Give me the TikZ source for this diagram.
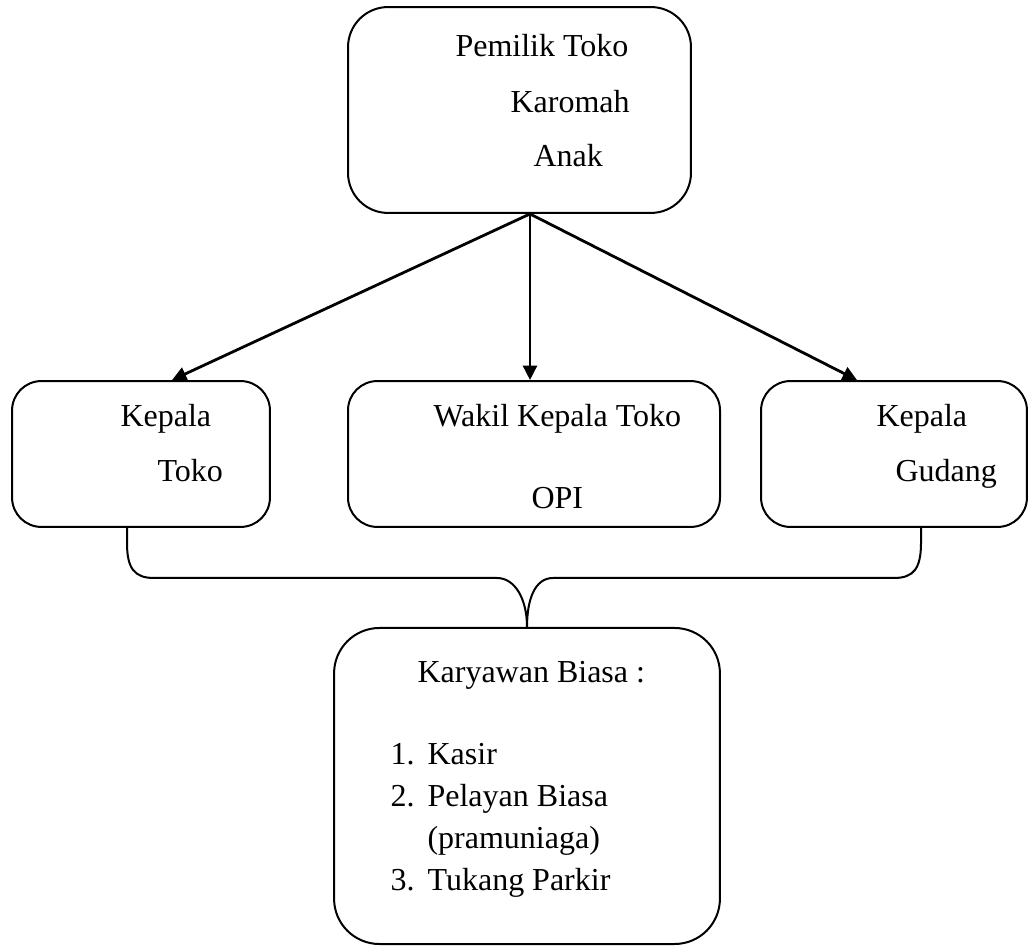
\documentclass[tikz,border=0pt]{standalone}
\usepackage{fontspec}
\setmainfont{Liberation Serif}
\usepackage{tikz}
\usetikzlibrary{arrows.meta,calc}

\begin{document}
\begin{tikzpicture}[x=0.375pt,y=-0.375pt,
        kotak/.style={draw,rounded corners=#1,line width=0.75pt,inner sep=0pt},
        kotak/.default=11pt,
        tulisan/.style={anchor=base west,inner sep=0pt,font=\fontsize{12}{14}\selectfont},
        panah/.style={-{Triangle[length=5.4pt,width=5.2pt]},line width=1.05pt}]
        \useasboundingbox (0,0) rectangle (1028,951);
        % kotak-kotak
        \node[kotak=15pt,minimum width=128.6pt,minimum height=77.2pt] (pemilik) at (519.5,110) {};
        \node[kotak,minimum width=96.7pt,minimum height=54.7pt] (kt) at (141,454) {};
        \node[kotak,minimum width=139.5pt,minimum height=54.7pt] (wk) at (534,454) {};
        \node[kotak,minimum width=99.7pt,minimum height=54.7pt] (kg) at (894,454) {};
        \node[kotak=17pt,minimum width=144.7pt,minimum height=118.5pt] (karyawan) at (527,786) {};
        % tulisan
        \node[tulisan] (p1) at (455,57) {Pemilik Toko};
        \node[tulisan] (p2) at (510,113) {Karomah};
        \node[tulisan] (p3) at (533,167) {Anak};
        \node[tulisan] (kt1) at (120,427) {Kepala};
        \node[tulisan] (kt2) at (157,482) {Toko};
        \node[tulisan] (wk1) at (433,427) {Wakil Kepala Toko};
        \node[tulisan] (wk2) at (531,509) {OPI};
        \node[tulisan] (kg1) at (876,427) {Kepala};
        \node[tulisan] (kg2) at (895,482) {Gudang};
        \node[tulisan] (k0) at (417,683) {Karyawan Biasa :};
        \node[tulisan] (k1) at (390,764) {\makebox[13.9pt][l]{1.}Kasir};
        \node[tulisan] (k2) at (390,806) {\makebox[13.9pt][l]{2.}Pelayan Biasa};
        \node[tulisan] (k3) at (427,848) {(pramuniaga)};
        \node[tulisan] (k4) at (390,890) {\makebox[13.9pt][l]{3.}Tukang Parkir};
        % panah
        \coordinate (pangkal) at ($(pemilik.south)+(10.5,0)$);
        \draw[panah] (pangkal) -- ($(kt.north)+(31,0)$);
        \draw[panah] (pangkal) -- ($(wk.north)+(-4,0)$);
        \draw[panah] (pangkal) -- ($(kg.north)+(-37,0)$);
        % kurung kurawal
        \coordinate (kiri) at ($(kt.south)+(-14,0)$);
        \coordinate (kanan) at ($(kg.south)+(27,0)$);
        \draw[line width=0.75pt] (kiri) -- ++(0,15) .. controls +(0,25) and +(-20,0) .. (154,578)
            -- (497,578) .. controls +(18,0) and +(0,-28) .. (karyawan.north)
            .. controls +(0,-28) and +(-18,0) .. (553,578) -- (894,578)
            .. controls +(20,0) and +(0,25) .. ($(kanan)+(0,15)$) -- (kanan);
    \end{tikzpicture}
\end{document}
